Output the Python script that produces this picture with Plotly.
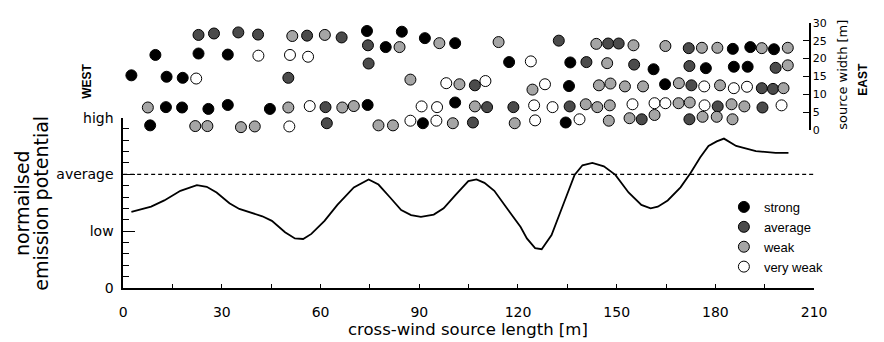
import plotly.graph_objects as go

# ---------------- data ----------------
# top panel: source positions (cross-wind distance [m], source width [m])
strong_x = [9.8, 22.9, 31.8, 2.5, 13.2, 18.1, 13.0, 17.9, 25.9, 31.8, 44.6, 8.2,
            74.1, 84.7, 91.7, 100.9, 79.8, 74.3, 100.9, 91.1, 117.3, 135.9, 135.5, 134.5,
            185.3, 190.6, 197.8, 161.2, 177.1, 185.6, 189.8, 164.7]
strong_y = [21.0, 21.4, 21.1, 15.3, 14.9, 14.6, 6.4, 6.3, 5.9, 7.0, 5.9, 1.3,
            27.7, 27.5, 25.7, 24.3, 23.2, 7.0, 7.7, 1.9, 19.0, 18.9, 12.3, 2.1,
            22.7, 23.2, 22.6, 17.0, 17.3, 17.7, 17.7, 12.8]

average_x = [22.9, 27.6, 35.0, 41.0, 55.9, 66.4, 74.4, 74.6, 50.2, 61.5, 61.9, 87.0,
             132.4, 147.4, 150.6, 140.8, 155.3, 106.9, 110.6, 118.6, 135.7, 106.3, 157.6,
             171.9, 172.1, 198.3, 172.7, 194.1, 197.5, 180.7, 194.3, 172.1]
average_y = [26.6, 27.0, 27.3, 26.7, 26.4, 25.9, 23.7, 18.6, 14.6, 6.4, 1.9, -0.3,
             25.0, 24.2, 24.2, 19.0, 18.3, 12.5, 6.4, 6.4, 6.6, 2.1, 3.0,
             22.9, 17.9, 17.4, 12.5, 11.7, 11.5, 6.6, 6.3, 3.0]

weak_x = [7.5, 21.9, 25.6, 35.8, 40.0, 51.4, 61.3, 96.1, 84.0, 87.3, 102.2, 50.2,
          66.6, 70.1, 77.6, 82.0, 100.2, 114.1, 143.8, 155.1, 147.1, 124.4, 144.6, 148.1,
          152.5, 158.0, 106.9, 140.6, 144.1, 147.9, 119.0, 147.6, 153.9, 164.8, 175.9, 180.6,
          194.1, 202.0, 202.0, 168.9, 181.4, 200.7, 168.8, 172.2, 184.9, 188.8, 161.5, 176.1,
          180.4, 185.2]
weak_y = [6.3, 1.1, 1.1, 0.8, 1.0, 26.3, 26.6, 24.3, 23.2, 14.1, 12.8, 6.3,
          6.3, 6.7, 1.3, 1.3, 1.9, 24.6, 24.1, 23.7, 18.7, 11.3, 12.5, 13.0,
          12.2, 12.2, 6.6, 7.2, 6.4, 6.9, 1.9, 2.6, 3.3, 23.5, 23.0, 23.0,
          22.9, 23.0, 18.1, 13.1, 12.5, 11.7, 7.5, 7.7, 7.2, 6.6, 4.2, 3.7,
          3.7, 3.0]

veryweak_x = [41.1, 50.7, 56.2, 22.2, 98.2, 50.5, 56.7, 90.7, 95.4, 87.3, 95.2, 110.1,
              123.9, 128.2, 124.9, 130.5, 154.8, 125.2, 138.7, 176.6, 185.6, 189.6, 161.5,
              164.8, 176.7, 200.1]
veryweak_y = [20.8, 21.0, 20.5, 14.4, 13.1, 1.0, 6.7, 6.6, 6.4, 2.6, 2.6, 13.7,
              19.2, 12.8, 6.9, 6.4, 7.2, 2.7, 3.0, 12.2, 11.7, 12.1, 7.5,
              7.5, 6.9, 6.9]

# bottom panel: normalised emission potential along the source
curve_x = [2.5, 8.5, 12.5, 17.4, 22.4, 25.4, 28.4, 32.3, 35.3, 39.3, 42.3, 45.2,
           49.2, 52.2, 54.7, 57.2, 61.2, 65.1, 70.1, 74.6, 77.6, 81.0, 84.5, 87.5,
           90.5, 94.4, 97.4, 100.9, 104.9, 107.4, 109.8, 112.8, 116.8, 120.8, 122.7, 125.2,
           127.2, 130.2, 133.7, 137.2, 139.6, 142.6, 146.1, 149.6, 153.6, 157.5, 160.3, 162.5,
           165.5, 169.4, 172.4, 175.4, 177.9, 180.4, 182.6, 186.3, 192.3, 198.3, 202.2]
curve_y = [1.34, 1.43, 1.54, 1.71, 1.81, 1.78, 1.68, 1.49, 1.39, 1.32, 1.26, 1.18,
           0.98, 0.87, 0.86, 0.95, 1.18, 1.46, 1.77, 1.91, 1.82, 1.60, 1.37, 1.28,
           1.25, 1.29, 1.40, 1.63, 1.88, 1.91, 1.85, 1.71, 1.40, 1.07, 0.87, 0.70,
           0.68, 0.93, 1.46, 1.99, 2.16, 2.20, 2.14, 1.99, 1.68, 1.46, 1.40, 1.43,
           1.54, 1.77, 2.02, 2.30, 2.50, 2.58, 2.63, 2.50, 2.41, 2.38, 2.38]

average_level = 2
x_range = [0, 210]
x_ticks = [0, 30, 60, 90, 120, 150, 180, 210]
y_ticks = [0, 1, 2, 3]
y_ticktext = ["0", "low", "average", "high"]
width_ticks = [0, 5, 10, 15, 20, 25, 30]

categories = ["strong", "average", "weak", "very weak"]
cat_colors = ["#000000", "#4b4b4b", "#a5a5a5", "#ffffff"]
cat_x = [strong_x, average_x, weak_x, veryweak_x]
cat_y = [strong_y, average_y, weak_y, veryweak_y]

# ---------------- layout geometry (pixels -> paper) ----------------
W, H = 884, 342
def px(x):
    return x / W
def py(y):
    return (H - y) / H

left_px, right_px = 121.5, 826.0
top_right_px = 820.7
scale = (right_px - left_px) / (x_range[1] - x_range[0])

fig = go.Figure()

for name, col, xs, ys in zip(categories, cat_colors, cat_x, cat_y):
    fig.add_trace(go.Scatter(
        x=xs, y=ys, mode="markers", name=name,
        xaxis="x2", yaxis="y2", cliponaxis=False,
        marker=dict(size=11, color=col, line=dict(color="black", width=1)),
    ))

fig.add_trace(go.Scatter(
    x=x_range, y=[average_level, average_level], mode="lines", showlegend=False,
    line=dict(color="black", width=1.3, dash="4px,3px"), xaxis="x", yaxis="y",
))
fig.add_trace(go.Scatter(
    x=curve_x, y=curve_y, mode="lines", showlegend=False,
    line=dict(color="black", width=1.8), xaxis="x", yaxis="y",
))

axis_font = dict(family="DejaVu Sans", size=14, color="black")

fig.update_layout(
    width=W, height=H,
    margin=dict(l=0, r=0, t=0, b=0),
    paper_bgcolor="white", plot_bgcolor="rgba(0,0,0,0)",
    showlegend=True,
    legend=dict(
        x=px(734), y=py(193), xanchor="left", yanchor="top",
        font=dict(family="Liberation Sans", size=13, color="black"),
        bgcolor="rgba(0,0,0,0)", borderwidth=0, itemwidth=30,
        tracegroupgap=0,
    ),
    xaxis=dict(
        domain=[px(left_px), px(right_px)], range=x_range,
        tickvals=x_ticks, ticks="inside", ticklen=4, tickwidth=1.2, tickcolor="black",
        minor=dict(dtick=15, ticks="inside", ticklen=4, tickwidth=1.2, tickcolor="black", showgrid=False),
        showline=True, linecolor="black", linewidth=1.5,
        showgrid=False, zeroline=False, tickfont=axis_font,
        ticklabelstandoff=11, anchor="y",
    ),
    yaxis=dict(
        domain=[py(293.5), py(115)], range=[0, 3],
        tickvals=y_ticks, ticktext=y_ticktext,
        ticks="inside", ticklen=12, tickwidth=1.2, tickcolor="black",
        minor=dict(dtick=0.2, ticks="inside", ticklen=6, tickwidth=1.2, tickcolor="black", showgrid=False),
        showline=True, linecolor="black", linewidth=1.5,
        showgrid=False, zeroline=False, tickfont=axis_font,
        ticklabelstandoff=5, anchor="x",
    ),
    xaxis2=dict(
        domain=[px(left_px), px(top_right_px)],
        range=[0, (top_right_px - left_px) / scale],
        visible=False, anchor="y2",
    ),
    yaxis2=dict(
        domain=[py(128), py(15.5)], range=[0, 30],
        tickvals=width_ticks, side="right", anchor="x2",
        ticks="inside", ticklen=6, tickwidth=1.2, tickcolor="black",
        showline=True, linecolor="black", linewidth=1.5,
        showgrid=False, zeroline=False,
        tickfont=dict(family="DejaVu Sans", size=11, color="black"),
    ),
)

def label(text, x, y, size, family="DejaVu Sans", angle=0, bold=False):
    fig.add_annotation(
        text=f"<b>{text}</b>" if bold else text,
        x=px(x), y=py(y), xref="paper", yref="paper",
        xanchor="center", yanchor="middle", showarrow=False, textangle=angle,
        font=dict(family=family, size=size, color="black"),
    )

label("normailsed", 19, 205, 19, angle=-90)
label("emission potential", 38, 205, 19, angle=-90)
label("cross-wind source length [m]", 473, 337, 16.5)
label("source width [m]", 855, 70.5, 13, angle=-90)
label("WEST", 85, 77, 12, family="Liberation Sans", angle=-90, bold=True)
label("EAST", 876, 75, 12, family="Liberation Sans", angle=-90, bold=True)

fig.write_html("out.html")
